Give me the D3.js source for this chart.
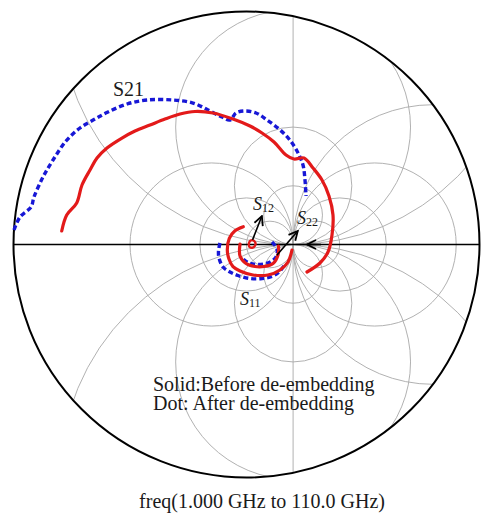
<!DOCTYPE html>
<html>
<head>
<meta charset="utf-8">
<script src="https://cdn.jsdelivr.net/npm/d3@7"></script>
<style>
  body { margin: 0; background: #ffffff; }
  text { font-family: "Liberation Serif", "Times New Roman", serif; fill: #1a1a1a; }
</style>
</head>
<body>
<svg id="chart" width="484" height="514"></svg>
<script>
// Reflection / transmission coefficients, [real, imaginary]
const s21Before = [[-3.965,0.290],[-3.858,0.633],[-3.644,0.891],[-3.530,1.277],[-3.358,1.599],[-3.208,1.856],
  [-2.994,2.071],[-2.672,2.285],[-2.393,2.436],[-2.071,2.564],[-1.749,2.693],[-1.427,2.800],[-1.105,2.854],
  [-0.719,2.822],[-0.290,2.693],[0.075,2.543],[0.333,2.393],[0.590,2.200],[0.848,1.921],[1.019,1.835],
  [1.234,1.856],[1.427,1.642],[1.620,1.384],[1.770,1.041],[1.856,0.633],[1.835,0.204],[1.749,-0.161],
  [1.577,-0.397],[1.298,-0.590]];
const s21After = [[-4.989,0.311],[-4.861,0.590],[-4.624,0.805],[-4.560,1.019],[-4.367,1.448],[-4.152,1.813],
  [-3.873,2.221],[-3.573,2.500],[-3.251,2.693],[-2.972,2.843],[-2.564,3.015],[-2.135,3.101],[-1.577,3.101],
  [-1.148,3.036],[-0.783,2.865],[-0.526,2.736],[-0.354,2.672],[-0.225,2.822],[-0.032,2.865],[0.204,2.822],
  [0.440,2.672],[0.697,2.479],[0.912,2.264],[1.084,2.006],[1.212,1.706],[1.255,1.384],[1.277,1.041]];
const s11Before = [[-0.069,0.382],[-0.247,0.296],[-0.369,0.133],[-0.412,-0.118],[-0.376,-0.311],
  [-0.290,-0.476],[-0.139,-0.569],[0.139,-0.655],[0.461,-0.655],[0.719,-0.547],[0.891,-0.376],[0.976,-0.118]];
const s11After = [[-0.569,0.032],[-0.601,-0.139],[-0.590,-0.290],[-0.504,-0.483],[-0.354,-0.590],
  [-0.182,-0.665],[0.075,-0.730],[0.333,-0.730],[0.547,-0.687],[0.697,-0.590],[0.805,-0.461]];
const s22Before = [[-0.139,0.011],[-0.139,-0.247],[-0.011,-0.408],[0.182,-0.472],[0.376,-0.472],
  [0.569,-0.408],[0.676,-0.225],[0.687,-0.032]];
const s22After = [[0.547,0.054],[0.655,-0.097],[0.633,-0.268],[0.483,-0.386],[0.247,-0.429],
  [0.032,-0.386],[-0.118,-0.268]];
const s12Before = [[0.05,0.02],[0.08,0.08],[0.14,0.09],[0.19,0.04],[0.18,-0.03],[0.12,-0.07],[0.06,-0.05],[0.05,0.02]];

// Smith grid: circle radii (in reflection-coefficient units), all passing through Γ = 1
const gammaMax = 5;
const resistanceLeftRadii = [0.5, 1, 1.75];
const resistanceRightRadii = [0.5, 1, 1.75, 3];
const reactanceRadii = [0.63, 1.26, 2.52, 5.0];

const svg = d3.select("#chart");
const cx = 246.5, cy = 244.5, R = 233;
const x = d3.scaleLinear().domain([-gammaMax, gammaMax]).range([cx - R, cx + R]);
const y = d3.scaleLinear().domain([-gammaMax, gammaMax]).range([cy + R, cy - R]);
const k = R / gammaMax;

svg.append("defs").append("clipPath").attr("id", "disk")
  .append("circle").attr("cx", x(0)).attr("cy", y(0)).attr("r", R);

const grid = svg.append("g").attr("clip-path", "url(#disk)")
  .attr("fill", "none").attr("stroke", "#a8a8a8").attr("stroke-width", 0.9);

resistanceLeftRadii.forEach(r => grid.append("circle").attr("cx", x(1 - r)).attr("cy", y(0)).attr("r", r * k));
resistanceRightRadii.forEach(r => grid.append("circle").attr("cx", x(1 + r)).attr("cy", y(0)).attr("r", r * k));
reactanceRadii.forEach(r => {
  grid.append("circle").attr("cx", x(1)).attr("cy", y(r)).attr("r", r * k);
  grid.append("circle").attr("cx", x(1)).attr("cy", y(-r)).attr("r", r * k);
});
grid.append("line").attr("x1", x(1)).attr("x2", x(1)).attr("y1", y(gammaMax)).attr("y2", y(-gammaMax));

// real axis and outer boundary
svg.append("line").attr("x1", x(-gammaMax)).attr("x2", x(gammaMax)).attr("y1", y(0)).attr("y2", y(0))
  .attr("stroke", "#000").attr("stroke-width", 1.6);
svg.append("circle").attr("cx", x(0)).attr("cy", y(0)).attr("r", R)
  .attr("fill", "none").attr("stroke", "#000").attr("stroke-width", 2);

const line = d3.line().x(d => x(d[0])).y(d => y(d[1])).curve(d3.curveCatmullRom.alpha(0.5));
const RED = "#e31a1a", BLUE = "#1717d6";

function solid(data) {
  svg.append("path").datum(data).attr("d", line).attr("fill", "none")
    .attr("stroke", RED).attr("stroke-width", 3.2).attr("stroke-linecap", "round").attr("stroke-linejoin", "round");
}
function dotted(data) {
  svg.append("path").datum(data).attr("d", line).attr("fill", "none")
    .attr("stroke", BLUE).attr("stroke-width", 3.4).attr("stroke-dasharray", "5,3");
}
dotted(s21After); dotted(s11After); dotted(s22After);
solid(s21Before); solid(s11Before); solid(s22Before);
svg.append("path").datum(s12Before).attr("d", line.curve(d3.curveCatmullRomClosed)).attr("fill", "none")
  .attr("stroke", RED).attr("stroke-width", 2.4);

// arrows from traces to their labels
const defs = svg.select("defs");
defs.append("marker").attr("id", "head").attr("viewBox", "0 0 10 10").attr("refX", 9).attr("refY", 5)
  .attr("markerWidth", 7).attr("markerHeight", 7).attr("orient", "auto")
  .append("path").attr("d", "M1,1 L9,5 L1,9").attr("fill", "none").attr("stroke", "#000").attr("stroke-width", 1.6);
const arrow = (a, b) => svg.append("line")
  .attr("x1", x(a[0])).attr("y1", y(a[1])).attr("x2", x(b[0])).attr("y2", y(b[1]))
  .attr("stroke", "#000").attr("stroke-width", 1.6).attr("marker-end", "url(#head)");
arrow([0.13, 0.10], [0.33, 0.61]);
arrow([0.65, -0.23], [1.10, 0.29]);
arrow([1.60, 0.0], [1.30, 0.0]);

// labels
svg.append("text").attr("x", 113).attr("y", 96).attr("font-size", 20).text("S21");
function subLabel(px, py, sub) {
  const t = svg.append("text").attr("x", px).attr("y", py);
  t.append("tspan").attr("font-size", 18).attr("font-style", "italic").text("S");
  t.append("tspan").attr("font-size", 12).attr("dy", 2).text(sub);
}
subLabel(253, 210, "12");
subLabel(297, 224, "22");
subLabel(240, 305, "11");

svg.append("text").attr("x", 153).attr("y", 391).attr("font-size", 20).text("Solid:Before de-embedding");
svg.append("text").attr("x", 153).attr("y", 410).attr("font-size", 20).text("Dot: After de-embedding");
svg.append("text").attr("x", 262).attr("y", 508).attr("font-size", 20).attr("text-anchor", "middle")
  .text("freq(1.000 GHz to 110.0 GHz)");
</script>
</body>
</html>
